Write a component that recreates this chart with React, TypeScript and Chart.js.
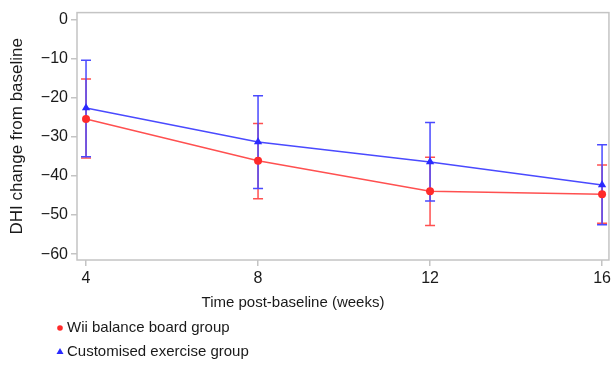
import React, { useEffect, useRef } from "react";
import { Chart, registerables } from "chart.js";
Chart.register(...registerables);

const weeks = [4, 8, 12, 16];
const wiiMean = [-25.4, -36.1, -43.9, -44.7];
const wiiUpper = [-15.2, -26.6, -35.2, -37.2];
const wiiLower = [-35.4, -45.8, -52.7, -52.1];
const exMean = [-22.6, -31.3, -36.4, -42.3];
const exUpper = [-10.4, -19.5, -26.3, -32.0];
const exLower = [-35.1, -43.2, -46.4, -52.5];
const yTicks = [0, -10, -20, -30, -40, -50, -60];
const seriesNames = ["Wii balance board group", "Customised exercise group"];
const xTitle = "Time post-baseline (weeks)";
const yTitle = "DHI change from baseline";

const RED = "#ff2a2a";
const RED_LINE = "#ff5050";
const BLUE = "#2a2aff";
const BLUE_LINE = "#4a4aff";
const FRAME = "#c4c4c4";
const FONT = "'Liberation Sans', Arial, sans-serif";

const errorBounds = [
  { lower: wiiLower, upper: wiiUpper, color: RED_LINE },
  { lower: exLower, upper: exUpper, color: BLUE_LINE },
];

const fmt = (v: number) => (v < 0 ? "\u2212" + Math.abs(v) : String(v));

const decorPlugin = {
  id: "decor",
  beforeDatasetsDraw(chart: any) {
    const { ctx, chartArea, scales } = chart;
    ctx.save();
    ctx.strokeStyle = FRAME;
    ctx.lineWidth = 1.5;
    ctx.strokeRect(chartArea.left, chartArea.top, chartArea.right - chartArea.left, chartArea.bottom - chartArea.top);
    errorBounds.forEach((eb) => {
      ctx.strokeStyle = eb.color;
      ctx.lineWidth = 1.5;
      weeks.forEach((w, i) => {
        const x = scales.x.getPixelForValue(w);
        const y1 = scales.y.getPixelForValue(eb.lower[i]);
        const y2 = scales.y.getPixelForValue(eb.upper[i]);
        ctx.beginPath();
        ctx.moveTo(x, y1);
        ctx.lineTo(x, y2);
        ctx.moveTo(x - 5, y1);
        ctx.lineTo(x + 5, y1);
        ctx.moveTo(x - 5, y2);
        ctx.lineTo(x + 5, y2);
        ctx.stroke();
      });
    });
    ctx.restore();
  },
  afterDraw(chart: any) {
    const { ctx, chartArea } = chart;
    ctx.save();
    ctx.fillStyle = "#1a1a1a";
    ctx.font = `15px ${FONT}`;
    ctx.textAlign = "center";
    ctx.textBaseline = "middle";
    ctx.fillText(xTitle, 293, 303);
    ctx.save();
    ctx.translate(17, (chartArea.top + chartArea.bottom) / 2);
    ctx.rotate(-Math.PI / 2);
    ctx.font = `17px ${FONT}`;
    ctx.fillText(yTitle, 0, 0);
    ctx.restore();
    ctx.font = `15px ${FONT}`;
    ctx.textAlign = "left";
    ctx.fillText(seriesNames[0], 67, 328);
    ctx.fillText(seriesNames[1], 67, 352);
    ctx.fillStyle = RED;
    ctx.beginPath();
    ctx.arc(60, 328, 2.8, 0, Math.PI * 2);
    ctx.fill();
    ctx.fillStyle = BLUE;
    ctx.beginPath();
    ctx.moveTo(60, 348);
    ctx.lineTo(63.5, 354);
    ctx.lineTo(56.5, 354);
    ctx.closePath();
    ctx.fill();
    ctx.restore();
  },
};

export default function App() {
  const ref = useRef<HTMLCanvasElement | null>(null);
  useEffect(() => {
    if (!ref.current) return;
    const chart = new Chart(ref.current, {
      type: "line",
      data: {
        datasets: [
          {
            label: seriesNames[0],
            data: weeks.map((w, i) => ({ x: w, y: wiiMean[i] })),
            borderColor: RED_LINE,
            backgroundColor: RED,
            borderWidth: 1.5,
            pointStyle: "circle",
            pointRadius: 4,
            pointBorderWidth: 0,
            pointBorderColor: RED,
          },
          {
            label: seriesNames[1],
            data: weeks.map((w, i) => ({ x: w, y: exMean[i] })),
            borderColor: BLUE_LINE,
            backgroundColor: BLUE,
            borderWidth: 1.5,
            pointStyle: "triangle",
            pointRadius: 4.8,
            pointBorderWidth: 0,
            pointBorderColor: BLUE,
          },
        ],
      },
      options: {
        animation: false,
        responsive: false,
        layout: { autoPadding: false, padding: { top: 9, right: 3, bottom: 75, left: 0 } },
        plugins: { legend: { display: false }, tooltip: { enabled: false } },
        scales: {
          x: {
            type: "linear",
            min: 3.79,
            max: 16.16,
            afterBuildTicks: (s: any) => {
              s.ticks = weeks.map((v) => ({ value: v }));
            },
            afterFit: (s: any) => {
              s.height = 30;
            },
            border: { display: false },
            grid: { drawOnChartArea: false, drawTicks: true, tickLength: 6, color: FRAME, lineWidth: 1.5 },
            ticks: { color: "#1a1a1a", font: { size: 16, family: FONT }, padding: 3, maxRotation: 0 },
          },
          y: {
            type: "linear",
            min: -61.5,
            max: 1.8,
            afterBuildTicks: (s: any) => {
              s.ticks = yTicks.map((v) => ({ value: v }));
            },
            afterFit: (s: any) => {
              s.width = 77;
            },
            border: { display: false },
            grid: { drawOnChartArea: false, drawTicks: true, tickLength: 6, color: FRAME, lineWidth: 1.5 },
            ticks: { color: "#1a1a1a", font: { size: 16, family: FONT }, padding: 3, callback: (v: any) => fmt(Number(v)) },
          },
        },
      },
      plugins: [decorPlugin],
    } as any);
    return () => chart.destroy();
  }, []);
  return (
    <div style={{ position: "absolute", left: 0, top: 0, width: 614, height: 365, background: "#fff" }}>
      <canvas ref={ref} width={614} height={365} style={{ display: "block" }} />
    </div>
  );
}
